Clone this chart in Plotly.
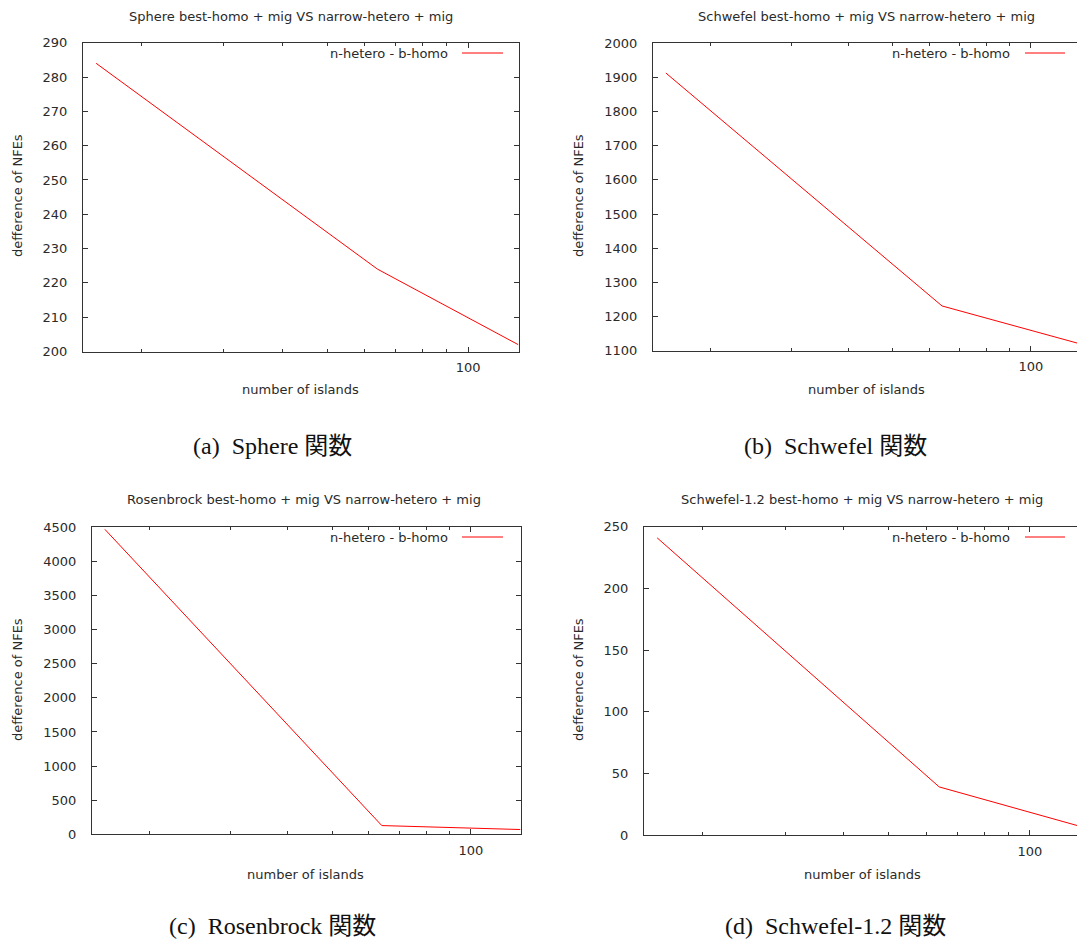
import plotly.graph_objects as go
import math

W, H = 1077, 941

# number of islands (log-scaled x axis)
islands = [16, 64, 128]

# difference of NFEs (n-hetero minus b-homo) for each benchmark function
sphere = [284, 224, 202]
schwefel = [1913, 1231, 1120]
rosenbrock = [4470, 128, 70]
schwefel12 = [241, 39, 7]

titles = [
    "Sphere best-homo + mig VS narrow-hetero + mig",
    "Schwefel best-homo + mig VS narrow-hetero + mig",
    "Rosenbrock best-homo + mig VS narrow-hetero + mig",
    "Schwefel-1.2 best-homo + mig VS narrow-hetero + mig",
]
captions = ["(a)  Sphere 関数", "(b)  Schwefel 関数", "(c)  Rosenbrock 関数", "(d)  Schwefel-1.2 関数"]
series_name = "n-hetero - b-homo"
x_label = "number of islands"
y_label = "defference of NFEs"

y_ranges = [(200, 290, 10), (1100, 2000, 100), (0, 4500, 500), (0, 250, 50)]
x_major = [100]
x_minor = [20, 30, 40, 50, 60, 70, 80, 90]

# plot-area boxes in pixels: left, right, top, bottom
boxes = [
    (83, 519, 42.7, 351.5),
    (653, 1077, 43.3, 350.7),
    (92, 521, 527.3, 834.3),
    (644, 1077, 526.7, 835.0),
]
x_max = [128.5, 126, 128.5, 126]
title_pos = [(291, 17), (866, 17), (304, 500), (862, 500)]
xlab_pos = [(300, 390), (866, 390), (305, 874), (862, 874)]
ylab_pos = [(17, 196), (578, 196), (17, 680), (578, 680)]
caption_pos = [(272, 446), (835, 446), (272, 926), (835, 926)]
legend_pos = [(450, 53, 462, 503), (1012, 53, 1025, 1065),
              (450, 537, 462, 503), (1012, 537, 1025, 1065)]

data = [sphere, schwefel, rosenbrock, schwefel12]

def px(x):
    return x / W

def py(y):
    return 1 - y / H

TXT = "#2a2a2a"
AX = "#333333"
FONT = "DejaVu Sans"

fig = go.Figure()
annotations = []
shapes = []

for i in range(4):
    n = "" if i == 0 else str(i + 1)
    xa, ya = "x" + n, "y" + n
    fig.add_trace(go.Scatter(
        x=islands, y=data[i], mode="lines", name=series_name,
        line=dict(color="#ff0000", width=1), xaxis=xa, yaxis=ya,
        showlegend=False, hoverinfo="skip",
    ))
    l, r, t, b = boxes[i]
    right_cut = r >= W
    y0, y1, dy = y_ranges[i]
    fig.layout["xaxis" + n] = dict(
        domain=[px(l), px(r)], anchor=ya, type="log", automargin=False,
        range=[math.log10(15), math.log10(x_max[i])],
        tickmode="array", tickvals=x_major, ticktext=[str(v) for v in x_major],
        ticks="inside", ticklen=5, tickcolor=AX, tickwidth=1,
        minor=dict(tickmode="array", tickvals=x_minor, ticks="inside",
                   ticklen=3, tickcolor=AX, tickwidth=1, showgrid=False),
        showline=True, linecolor=AX, linewidth=1, mirror="allticks",
        showgrid=False, zeroline=False,
        tickfont=dict(family=FONT, size=13, color=TXT),
        ticklabelstandoff=4,
    )
    fig.layout["yaxis" + n] = dict(
        domain=[py(b), py(t)], anchor=xa, automargin=False,
        range=[y0, y1], tickmode="array",
        tickvals=list(range(y0, y1 + 1, dy)),
        ticks="inside", ticklen=5, tickcolor=AX, tickwidth=1,
        showline=True, linecolor=AX, linewidth=1,
        mirror=False if right_cut else "allticks",
        showgrid=False, zeroline=False,
        tickfont=dict(family=FONT, size=13, color=TXT),
        ticklabelstandoff=12,
    )
    # panel title
    tx, ty = title_pos[i]
    annotations.append(dict(text=titles[i], x=px(tx), y=py(ty), xref="paper", yref="paper",
                            showarrow=False, xanchor="center", yanchor="middle",
                            font=dict(family=FONT, size=13, color=TXT)))
    # axis titles
    ax_, ay_ = xlab_pos[i]
    annotations.append(dict(text=x_label, x=px(ax_), y=py(ay_), xref="paper", yref="paper",
                            showarrow=False, xanchor="center", yanchor="middle",
                            font=dict(family=FONT, size=13, color=TXT)))
    lx, ly = ylab_pos[i]
    annotations.append(dict(text=y_label, x=px(lx), y=py(ly), xref="paper", yref="paper",
                            showarrow=False, xanchor="center", yanchor="middle", textangle=-90,
                            font=dict(family=FONT, size=13, color=TXT)))
    # caption under each panel
    cx, cy = caption_pos[i]
    annotations.append(dict(text=captions[i], x=px(cx), y=py(cy), xref="paper", yref="paper",
                            showarrow=False, xanchor="center", yanchor="middle",
                            font=dict(family="Liberation Serif, Noto Sans CJK JP", size=24,
                                      color="#111111")))
    # key: text followed by a line sample
    kt, ky, k0, k1 = legend_pos[i]
    annotations.append(dict(text=series_name, x=px(kt), y=py(ky), xref="paper", yref="paper",
                            showarrow=False, xanchor="right", yanchor="middle",
                            font=dict(family=FONT, size=13, color=TXT)))
    shapes.append(dict(type="line", xref="paper", yref="paper",
                       x0=px(k0), x1=px(k1), y0=py(ky), y1=py(ky),
                       line=dict(color="#ff0000", width=1)))

fig.update_layout(
    width=W, height=H,
    margin=dict(l=0, r=0, t=0, b=0, autoexpand=False),
    paper_bgcolor="white", plot_bgcolor="white",
    annotations=annotations, shapes=shapes,
    showlegend=False,
)

fig.write_html("out.html")
